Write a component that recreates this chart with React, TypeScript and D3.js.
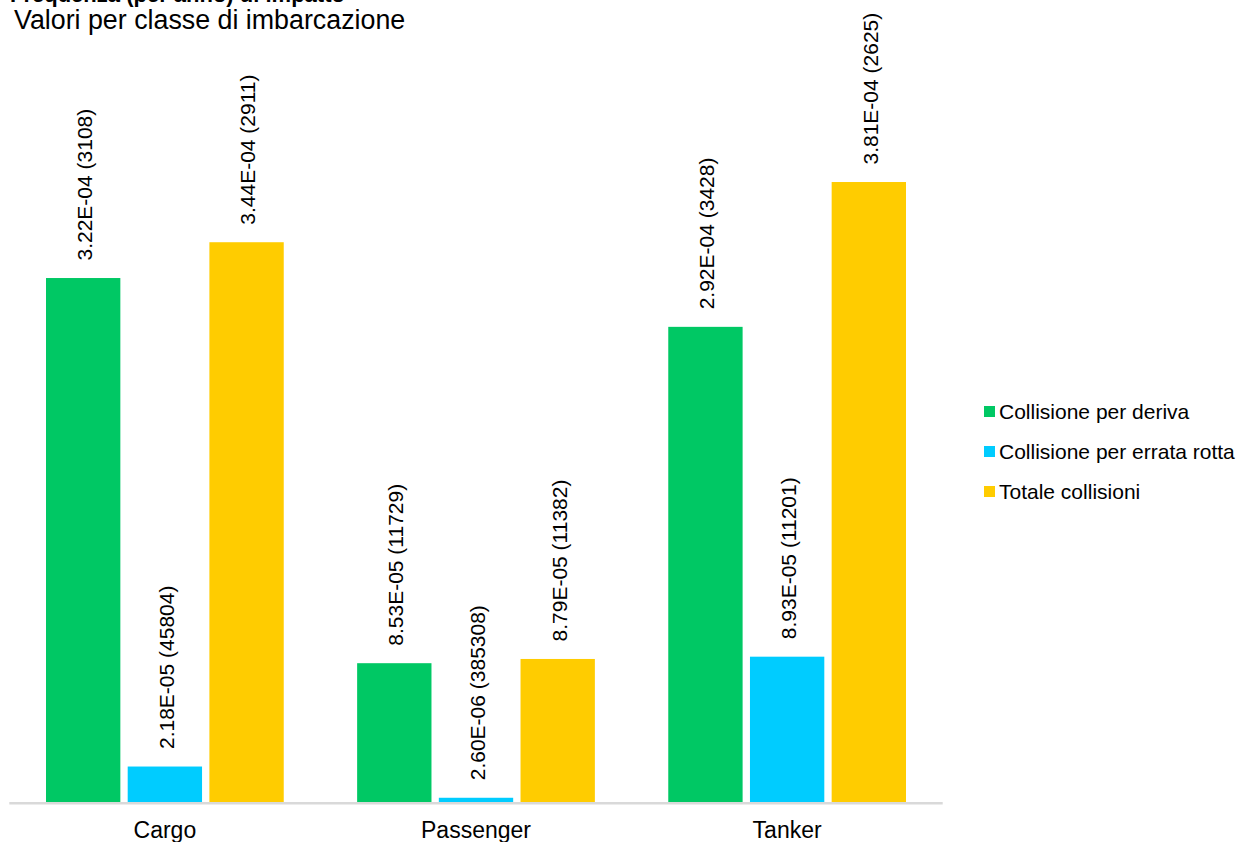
import React from "react";
import * as d3 from "d3";

// Vessel classes and collision series
const categories = ["Cargo", "Passenger", "Tanker"];
const seriesNames = [
  "Collisione per deriva",
  "Collisione per errata rotta",
  "Totale collisioni",
];
const seriesColors = ["#00C864", "#00CCFF", "#FFCC00"];

// Annual frequency per series, one value per vessel class
const derivaValues = [3.22e-4, 8.53e-5, 2.92e-4];
const rottaValues = [2.18e-5, 2.6e-6, 8.93e-5];
const totaleValues = [3.44e-4, 8.79e-5, 3.81e-4];

// Return period (years) shown in brackets next to each value
const derivaYears = [3108, 11729, 3428];
const rottaYears = [45804, 385308, 11201];
const totaleYears = [2911, 11382, 2625];

const seriesValues = [derivaValues, rottaValues, totaleValues];
const seriesYears = [derivaYears, rottaYears, totaleYears];

const W = 1240;
const H = 842;
const FONT = "'Liberation Sans', Arial, Helvetica, sans-serif";

const fmtExp = (v: number) => {
  const [m, e] = v.toExponential(2).split("e");
  const sign = e.startsWith("-") ? "-" : "+";
  const digits = e.replace(/[+-]/, "").padStart(2, "0");
  return `${m}E${sign}${digits}`;
};

export default function App() {
  const baseY = 802;
  const x0 = d3.scaleBand<string>().domain(categories).range([9.3, 942.7]).padding(0);
  const x1 = d3
    .scaleBand<string>()
    .domain(seriesNames)
    .range([36.7, x0.bandwidth() - 36.7])
    .paddingInner(0.09)
    .paddingOuter(0);
  const y = d3.scaleLinear().domain([0, 4e-4]).range([baseY, baseY - 650.9]);

  return (
    <svg
      width={W}
      height={H}
      style={{ position: "absolute", left: 0, top: 0, background: "#fff" }}
      fontFamily={FONT}
    >
      <rect width={W} height={H} fill="#fff" />
      <text x={10} y={1.5} fontSize={22} fontWeight="bold" fill="#000">
        Frequenza (per anno) di impatto
      </text>
      <text x={14} y={28.5} fontSize={26.8} fill="#000">
        Valori per classe di imbarcazione
      </text>

      {categories.map((cat, ci) => (
        <g key={cat} transform={`translate(${x0(cat)},0)`}>
          {seriesNames.map((s, si) => {
            const v = seriesValues[si][ci];
            const bx = x1(s)!;
            const top = y(v);
            const cx = bx + x1.bandwidth() / 2 + 1.5;
            const ly = top - 17.5;
            return (
              <g key={s}>
                <rect
                  x={bx}
                  y={top}
                  width={x1.bandwidth()}
                  height={baseY - top}
                  fill={seriesColors[si]}
                />
                <text
                  transform={`translate(${cx},${ly}) rotate(-90)`}
                  fontSize={21}
                  dy="0.35em"
                  fill="#000"
                >
                  {`${fmtExp(v)} (${seriesYears[si][ci]})`}
                </text>
              </g>
            );
          })}
          <text
            x={x0.bandwidth() / 2}
            y={838}
            fontSize={23}
            textAnchor="middle"
            fill="#000"
          >
            {cat}
          </text>
        </g>
      ))}

      <line x1={9.3} x2={942.7} y1={baseY + 1.2} y2={baseY + 1.2} stroke="#d9d9d9" strokeWidth={2.4} />

      {seriesNames.map((s, si) => (
        <g key={s} transform={`translate(984,${411.5 + si * 40})`}>
          <rect x={0} y={-5.5} width={11} height={11} fill={seriesColors[si]} />
          <text x={15} y={7.5} fontSize={21} fill="#000">
            {s}
          </text>
        </g>
      ))}
    </svg>
  );
}
